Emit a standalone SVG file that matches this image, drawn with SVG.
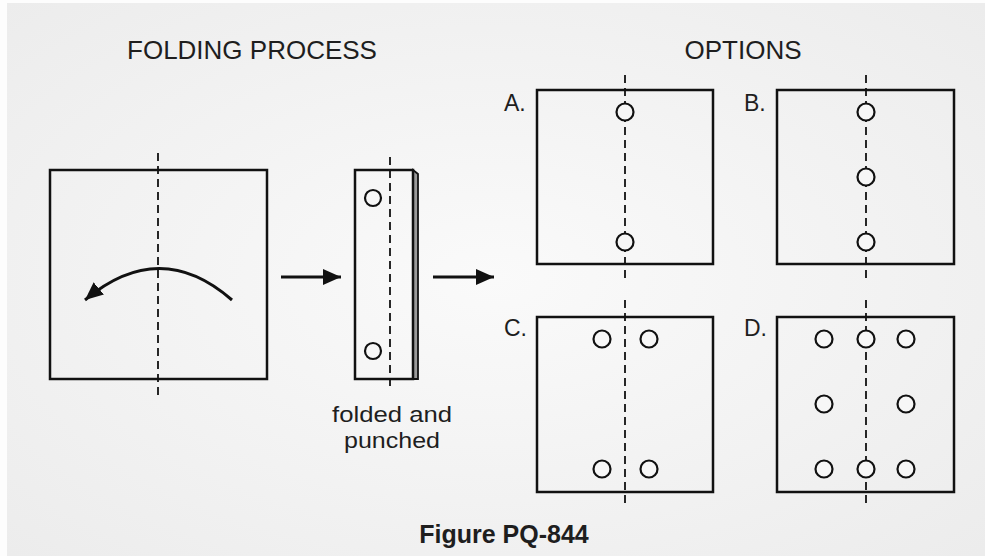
<svg xmlns="http://www.w3.org/2000/svg" width="985" height="556" viewBox="0 0 985 556">
<defs>
<radialGradient id="bg" cx="0.5" cy="0.5" r="0.7">
<stop offset="0" stop-color="#fafafa"/>
<stop offset="1" stop-color="#ececec"/>
</radialGradient>
<marker id="ah" markerUnits="userSpaceOnUse" markerWidth="20" markerHeight="18" refX="18" refY="8" orient="auto">
<path d="M0,0 L18,8 L0,16 Z" fill="#111"/>
</marker>
<style>
.t{font-family:"Liberation Sans",Arial,sans-serif;fill:#1e1e1e}
.sq{fill:none;stroke:#111;stroke-width:2.5}
.dash{fill:none;stroke:#111;stroke-width:1.8;stroke-dasharray:8 5}
.hole{fill:#f7f7f7;stroke:#111;stroke-width:2.2}
.arr{fill:none;stroke:#111;stroke-width:3}
</style>
</defs>
<rect x="0" y="0" width="985" height="556" fill="url(#bg)"/>
<rect x="0" y="0" width="7" height="556" fill="#fdfdfd"/>
<rect x="0" y="0" width="985" height="3" fill="#fdfdfd"/>

<text class="t" x="252" y="59" font-size="26" text-anchor="middle">FOLDING PROCESS</text>
<text class="t" x="743" y="59" font-size="26" text-anchor="middle">OPTIONS</text>

<g id="sheet">
<rect class="sq" x="50" y="170" width="217" height="209"/>
<line class="dash" x1="158" y1="153" x2="158" y2="400"/>
</g>

<g id="folded">
<path d="M413,170 L418,174 L418,379 L413,379 Z" fill="#9a9a9a" stroke="#111" stroke-width="1.8"/>
<rect class="sq" x="355" y="170" width="58" height="209" fill="#f6f6f6"/>
<line class="dash" x1="390" y1="157" x2="390" y2="388"/>
<circle class="hole" cx="373" cy="198" r="8"/>
<circle class="hole" cx="373" cy="351" r="8"/>
<text class="t" x="392" y="422" font-size="22" text-anchor="middle" textLength="120" lengthAdjust="spacingAndGlyphs">folded and</text>
<text class="t" x="392" y="448" font-size="22" text-anchor="middle" textLength="96" lengthAdjust="spacingAndGlyphs">punched</text>
</g>

<g id="optA">
<text class="t" x="504" y="111" font-size="23">A.</text>
<rect class="sq" x="537" y="90" width="176" height="174"/>
<line class="dash" x1="625" y1="75" x2="625" y2="280"/>
<circle class="hole" cx="625" cy="112" r="8.5"/>
<circle class="hole" cx="625" cy="242" r="8.5"/>
</g>

<g id="optB">
<text class="t" x="744" y="111" font-size="23">B.</text>
<rect class="sq" x="777" y="90" width="177" height="174"/>
<line class="dash" x1="866" y1="75" x2="866" y2="280"/>
<circle class="hole" cx="866" cy="112" r="8.5"/>
<circle class="hole" cx="866" cy="177" r="8.5"/>
<circle class="hole" cx="866" cy="242" r="8.5"/>
</g>

<g id="optC">
<text class="t" x="504" y="336" font-size="23">C.</text>
<rect class="sq" x="537" y="317" width="176" height="175"/>
<line class="dash" x1="625" y1="300" x2="625" y2="508"/>
<circle class="hole" cx="602" cy="339" r="8.5"/>
<circle class="hole" cx="649" cy="339" r="8.5"/>
<circle class="hole" cx="602" cy="469" r="8.5"/>
<circle class="hole" cx="649" cy="469" r="8.5"/>
</g>

<g id="optD">
<text class="t" x="744" y="336" font-size="23">D.</text>
<rect class="sq" x="777" y="317" width="177" height="175"/>
<line class="dash" x1="866" y1="300" x2="866" y2="508"/>
<circle class="hole" cx="824" cy="339" r="8.5"/>
<circle class="hole" cx="866" cy="339" r="8.5"/>
<circle class="hole" cx="906" cy="339" r="8.5"/>
<circle class="hole" cx="824" cy="404" r="8.5"/>
<circle class="hole" cx="906" cy="404" r="8.5"/>
<circle class="hole" cx="824" cy="469" r="8.5"/>
<circle class="hole" cx="866" cy="469" r="8.5"/>
<circle class="hole" cx="906" cy="469" r="8.5"/>
</g>

<g id="connectors">
<path class="arr" d="M232,300 Q160,237 85,300" stroke-width="2.5" marker-end="url(#ah)"/>
<line class="arr" x1="281" y1="277" x2="341" y2="277" marker-end="url(#ah)"/>
<line class="arr" x1="433" y1="277" x2="494" y2="277" marker-end="url(#ah)"/>
</g>

<text class="t" x="504" y="543" font-size="25" font-weight="bold" text-anchor="middle" fill="#111">Figure PQ-844</text>
</svg>
